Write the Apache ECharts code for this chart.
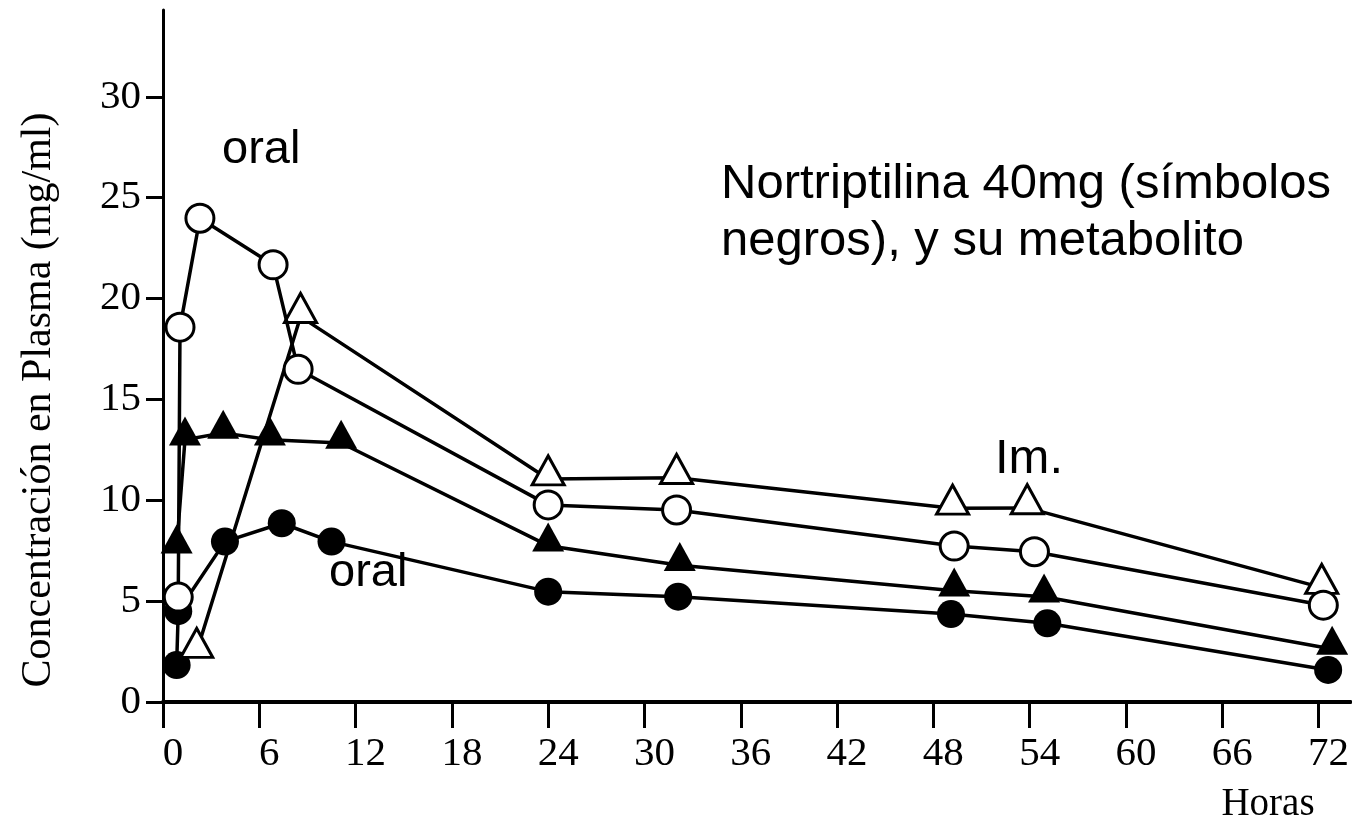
<!DOCTYPE html>
<html>
<head>
<meta charset="utf-8">
<script src="https://cdn.jsdelivr.net/npm/echarts@6/dist/echarts.min.js"></script>
<style>
html,body{margin:0;padding:0;background:#fff;}
#chart{width:1352px;height:836px;}
</style>
</head>
<body>
<div id="chart"></div>
<script>
// ---- data (hours, concentration) ----
const xTicks = [0, 6, 12, 18, 24, 30, 36, 42, 48, 54, 60, 66, 72];
const yTicks = [0, 5, 10, 15, 20, 25, 30];

const filledCircles = [[0.85, 1.83], [0.95, 4.5], [3.86, 7.95], [7.4, 8.86], [10.5, 7.95], [24, 5.47], [32.1, 5.22], [49.1, 4.36], [55.1, 3.9], [72.6, 1.59]];
const filledTriangles = [[0.85, 7.65], [1.37, 13.0], [3.75, 13.34], [6.66, 13.0], [11.1, 12.84], [24, 7.75], [32.2, 6.78], [49.3, 5.52], [54.9, 5.22], [72.85, 2.63]];
const openTriangles = [[2.1, 2.5], [8.57, 19.1], [24, 11.05], [32, 11.12], [49.2, 9.6], [53.85, 9.62], [72.2, 5.67]];
const openCircles = [[0.95, 5.2], [1.06, 18.58], [2.3, 23.98], [6.86, 21.67], [8.42, 16.49], [24, 9.77], [32, 9.52], [49.3, 7.73], [54.3, 7.45], [72.3, 4.8]];

const yTitle = 'Concentración en Plasma (mg/ml)';
const xTitle = 'Horas';
const noteTop = 'oral';
const noteBottom = 'oral';
const noteIm = 'Im.';
const noteMain = 'Nortriptilina 40mg (símbolos\nnegros), y su metabolito';

const serif = '"Liberation Serif", "Times New Roman", serif';
const sans = '"Liberation Sans", Arial, sans-serif';

const chart = echarts.init(document.getElementById('chart'), null, {renderer: 'canvas'});

function lineSeries(name, data, symbol, filled, z) {
  const isTri = symbol === 'triangle';
  return {
    name: name,
    type: 'line',
    data: data,
    symbol: symbol,
    symbolSize: isTri ? [32, 29] : 28,
    symbolOffset: isTri ? [0, '-30%'] : [0, 0],
    showAllSymbol: true,
    animation: false,
    silent: true,
    z: z,
    lineStyle: {color: '#000', width: 3.5},
    itemStyle: filled
      ? {color: '#000', borderColor: '#000', borderWidth: 0}
      : {color: '#fff', borderColor: '#000', borderWidth: 3},
    emphasis: {disabled: true}
  };
}

const option = {
  backgroundColor: '#fff',
  animation: false,
  grid: {left: 163, right: 0, top: 10, bottom: 134, containLabel: false},
  xAxis: {
    type: 'value',
    min: 0,
    max: 74,
    interval: 6,
    axisLine: {show: true, onZero: false, lineStyle: {color: '#000', width: 4}},
    axisTick: {show: true, length: 26, customValues: xTicks, lineStyle: {color: '#000', width: 3}},
    axisLabel: {
      customValues: xTicks,
      fontFamily: serif, fontSize: 41, color: '#000', margin: 32,
      padding: [0, 0, 0, 20]
    },
    splitLine: {show: false}
  },
  yAxis: {
    type: 'value',
    min: 0,
    max: 34.3,
    interval: 5,
    axisLine: {show: true, onZero: false, lineStyle: {color: '#000', width: 3}},
    axisTick: {show: true, length: 17, customValues: yTicks, lineStyle: {color: '#000', width: 3}},
    axisLabel: {
      customValues: yTicks,
      fontFamily: serif, fontSize: 41, color: '#000', margin: 22
    },
    splitLine: {show: false}
  },
  series: [
    lineSeries('filledCircles', filledCircles, 'circle', true, 2),
    lineSeries('filledTriangles', filledTriangles, 'triangle', true, 3),
    lineSeries('openTriangles', openTriangles, 'triangle', false, 4),
    lineSeries('openCircles', openCircles, 'circle', false, 5)
  ],
  graphic: [
    {type: 'text', x: 39, y: 400, rotation: Math.PI / 2, silent: true,
      style: {text: yTitle, font: '42px ' + serif, fill: '#000', align: 'center', verticalAlign: 'middle', textAlign: 'center', textVerticalAlign: 'middle'}},
    {type: 'text', x: 1268, y: 805, silent: true,
      style: {text: xTitle, font: '39px ' + serif, fill: '#000', align: 'center', verticalAlign: 'middle', textAlign: 'center', textVerticalAlign: 'middle'}},
    {type: 'text', x: 222, y: 150, silent: true,
      style: {text: noteTop, font: '47px ' + sans, fill: '#000', align: 'left', verticalAlign: 'middle', textAlign: 'left', textVerticalAlign: 'middle'}},
    {type: 'text', x: 329, y: 573, silent: true,
      style: {text: noteBottom, font: '47px ' + sans, fill: '#000', align: 'left', verticalAlign: 'middle', textAlign: 'left', textVerticalAlign: 'middle'}},
    {type: 'text', x: 995, y: 459, silent: true,
      style: {text: noteIm, font: '49px ' + sans, fill: '#000', align: 'left', verticalAlign: 'middle', textAlign: 'left', textVerticalAlign: 'middle'}},
    {type: 'text', x: 721, y: 184, silent: true,
      style: {text: noteMain, font: '49px ' + sans, lineHeight: 57, fill: '#000', align: 'left', verticalAlign: 'top', textAlign: 'left', textVerticalAlign: 'top', y: -28}}
  ]
};
chart.setOption(option);
</script>
</body>
</html>
